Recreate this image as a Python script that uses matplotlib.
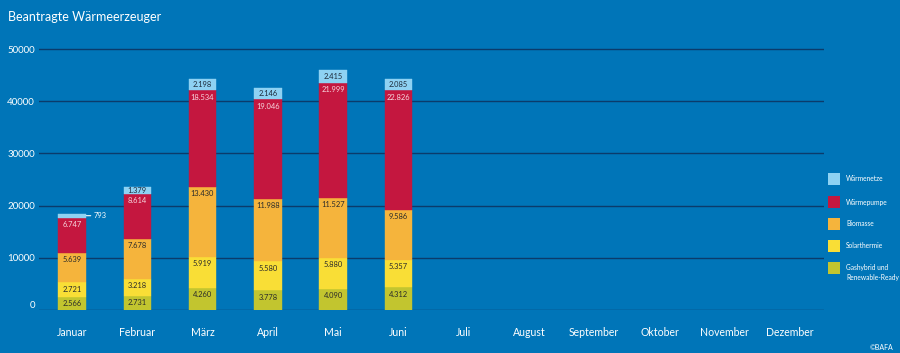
import matplotlib
matplotlib.use("Agg")
import matplotlib.pyplot as plt
from matplotlib.patches import Rectangle

months = ["Januar", "Februar", "März", "April", "Mai", "Juni", "Juli",
          "August", "September", "Oktober", "November", "Dezember"]
series_names = ["Gashybrid und\nRenewable-Ready", "Solarthermie", "Biomasse",
                "Wärmepumpe", "Wärmenetze"]
gashybrid = [2566, 2731, 4260, 3778, 4090, 4312]
solarthermie = [2721, 3218, 5919, 5580, 5880, 5357]
biomasse = [5639, 7678, 13430, 11988, 11527, 9586]
waermepumpe = [6747, 8614, 18534, 19046, 21999, 22826]
waermenetze = [793, 1379, 2198, 2146, 2415, 2085]
yticks = [0, 10000, 20000, 30000, 40000, 50000]

colors = ["#C2C52F", "#F9DE36", "#F5B43C", "#C4173F", "#8ED2F3"]
text_colors = ["#2a2a2a", "#2a2a2a", "#2a2a2a", "#F6D6DE", "#1c2a3a"]
bg = "#0075B8"
grid_c = "#0B3B6B"

plt.rcParams['font.family'] = ['Lato', 'DejaVu Sans']

fig = plt.figure(figsize=(9, 3.53), dpi=100, facecolor=bg)
ax = fig.add_axes([39/900, 1-310/353, 785/900, 271.4/353])
ax.set_facecolor(bg)
for s in ax.spines.values():
    s.set_visible(False)

ax.set_xlim(-0.505, 11.52)
ax.set_ylim(0, 52000)

for yt in yticks:
    ax.axhline(yt, color=grid_c, lw=1.0, zorder=1)

data = [gashybrid, solarthermie, biomasse, waermepumpe, waermenetze]
n = len(gashybrid)
x = list(range(n))
width = 0.42
bottom = [0]*n
for si, vals in enumerate(data):
    ax.bar(x, vals, width, bottom=bottom, color=colors[si], zorder=3,
           edgecolor=colors[si], linewidth=0.3)
    for i, v in enumerate(vals):
        lab = f"{v:,}".replace(",", ".")
        top = bottom[i] + v
        if si == 4:
            if v < 1000:
                ax.annotate(lab, xy=(i + width/2, bottom[i] + v/2),
                            xytext=(i + width/2 + 0.12, bottom[i] + v/2),
                            color="white", fontsize=5.4, va="center", ha="left",
                            arrowprops=dict(arrowstyle="-", color="white", lw=0.8,
                                            shrinkA=0, shrinkB=0.5),
                            zorder=5)
            else:
                ax.text(i, bottom[i] + v/2, lab, ha="center", va="center",
                        fontsize=5.4, color=text_colors[si], zorder=5)
        else:
            ax.annotate(lab, xy=(i, top), xytext=(0, -2.5), textcoords="offset points",
                        ha="center", va="top", fontsize=5.4, color=text_colors[si],
                        zorder=5)
    bottom = [b + v for b, v in zip(bottom, vals)]

ax.set_xticks(range(len(months)))
ax.set_xticklabels(months, color="white", fontsize=7.6)
ax.set_yticks(yticks)
ax.set_yticklabels([str(t) for t in yticks], color="white", fontsize=7)
ax.tick_params(axis="both", length=0)
ax.tick_params(axis="x", pad=12)
ax.tick_params(axis="y", pad=3)
# the zero label sits a little above the baseline in the reference
for lbl in ax.get_yticklabels():
    if lbl.get_text() == "0":
        lbl.set_va("bottom")

fig.text(8/900, 1-17/353, "Beantragte Wärmeerzeuger", color="white",
         fontsize=9.0, va="center", ha="left")

# legend
leg_y = [179, 202, 224, 246, 268]
leg_order = [4, 3, 2, 1, 0]
for yy, si in zip(leg_y, leg_order):
    fig.patches.append(Rectangle((828/900, 1-(yy+6)/353), 12/900, 12/353,
                                 transform=fig.transFigure, facecolor=colors[si],
                                 edgecolor="none", figure=fig))
    name = series_names[si]
    fig.text(846/900, 1-(yy-4 if "\n" in name else yy)/353, name, color="white",
             fontsize=4.8, va="top" if "\n" in name else "center", ha="left",
             linespacing=1.5)

fig.text(893/900, 1-347/353, "©BAFA", color="white", fontsize=5, ha="right",
         va="center")

fig.savefig("out.png", dpi=100, facecolor=bg)
